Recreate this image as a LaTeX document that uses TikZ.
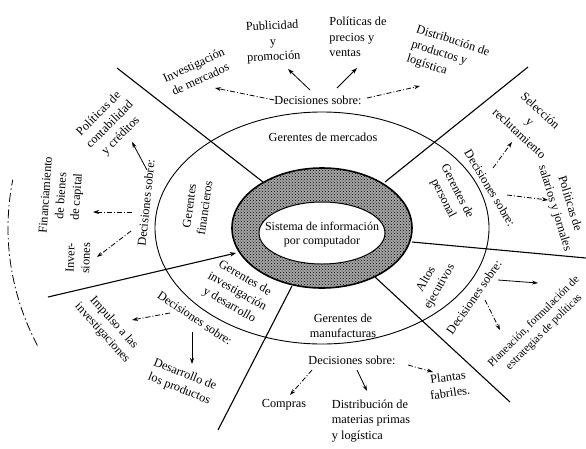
\documentclass[tikz,border=0pt]{standalone}
\usepackage{fontspec}
\setmainfont{Liberation Serif}
\usetikzlibrary{arrows.meta,patterns}
\begin{document}
\begin{tikzpicture}[x=1pt,y=-1pt,
  lbl/.style={font=\fontsize{12.3}{15.5}\selectfont, align=center, inner sep=0pt},
  lbll/.style={lbl, align=left},
  radial/.style={line width=1.1pt},
  midring/.style={line width=0.9pt},
  arr/.style={line width=0.8pt,-{Stealth[length=6pt,width=4pt]}},
  darr/.style={arr, dash pattern=on 5pt off 2pt on 1pt off 2pt},
]
\useasboundingbox (0,0) rectangle (586,448);
\fill[white] (0,0) rectangle (586,448);

% outer dash-dot arc (left)
\draw[line width=0.8pt, dash pattern=on 9pt off 3pt on 1.5pt off 3pt]
  plot[domain=155:190, samples=30, smooth] ({322+314*cos(\x)}, {228+278*sin(\x)});

% middle ellipse
\draw[midring] (322,228) ellipse [x radius=167pt, y radius=116pt];

% radial lines
\coordinate (r1a) at (263,182); \coordinate (r1b) at (117,68);
\coordinate (r2a) at (385,182); \coordinate (r2b) at (528,67);
\coordinate (r3a) at (412,242); \coordinate (r3b) at (586,258);
\coordinate (r4a) at (375,277); \coordinate (r4b) at (510,402);
\coordinate (r5a) at (292,286); \coordinate (r5b) at (218,430);
\coordinate (r6a) at (236,253); \coordinate (r6b) at (48,297);
\draw[radial] (r1a) -- (r1b);
\draw[radial] (r2a) -- (r2b);
\draw[radial] (r3a) -- (r3b);
\draw[radial] (r4a) -- (r4b);
\draw[radial] (r5a) -- (r5b);
\draw[radial, -{Stealth[length=6pt,width=4.5pt]}] (r6b) -- (r6a);

% central shaded ring
\fill[black!35, even odd rule] (322,228) ellipse [x radius=90pt, y radius=60pt]
  (322,233) ellipse [x radius=63pt, y radius=31pt];
\fill[pattern=crosshatch dots, pattern color=black, even odd rule]
  (322,228) ellipse [x radius=90pt, y radius=60pt]
  (322,233) ellipse [x radius=63pt, y radius=31pt];
\draw[line width=1.6pt] (322,228) ellipse [x radius=90pt, y radius=60pt];
\draw[line width=1pt, fill=white] (322,233) ellipse [x radius=63pt, y radius=31pt];
\node[lbl, font=\fontsize{12}{14}\selectfont] (sic) at (322,235) {Sistema de información\\por computador};

% ---- Marketing (top)
\node[lbl] (gm) at (323,137) {Gerentes de mercados};
\node[lbl] (dm) at (318,100) {Decisiones sobre:};
\node[lbl, rotate=25] (im) at (197,72) {Investigación\\de mercados};
\node[lbl, rotate=3] (pp) at (273,42) {Publicidad\\y\\promoción};
\node[lbll] (pv) at (358,37) {Políticas de\\precios y\\ventas};
\node[lbll, rotate=-18] (dl) at (448,56) {Distribución de\\productos y\\logística};
\coordinate (a1) at (215,88);
\coordinate (a2s) at (310,90); \coordinate (a2) at (288,69);
\coordinate (a3s) at (337,88); \coordinate (a3) at (357,68);
\coordinate (a4s) at (367,98); \coordinate (a4) at (420,86);
\draw[darr] (dm.west) -- (a1);
\draw[arr] (a2s) -- (a2);
\draw[arr] (a3s) -- (a3);
\draw[darr] (a4s) -- (a4);

% ---- Finance (left)
\node[lbl, rotate=82] (gf) at (197,207) {Gerentes\\financieros};
\node[lbl, rotate=84] (df) at (146,203) {Decisiones sobre:};
\node[lbl, rotate=45] (pc) at (110,125) {Políticas de\\contabilidad\\y créditos};
\node[lbl, rotate=86] (fb) at (62,196) {Financiamiento\\de bienes\\de capital};
\node[lbl, rotate=88] (inv) at (78,258) {Inver-\\siones};
\coordinate (f1s) at (147,170); \coordinate (f1) at (132,142);
\coordinate (f2s) at (132,212); \coordinate (f2) at (93,212);
\coordinate (f3s) at (131,231); \coordinate (f3) at (97,257);
\draw[arr] (f1s) -- (f1);
\draw[darr] (f2s) -- (f2);
\draw[darr] (f3s) -- (f3);

% ---- Personnel (right)
\node[lbl, rotate=-63] (gp) at (450,195) {Gerentes de\\personal};
\node[lbl, rotate=-59] (dp) at (490,188) {Decisiones sobre:};
\node[lbl, rotate=-43] (sr) at (530,122) {Selección\\y\\reclutamiento};
\node[lbl, rotate=-73] (ps) at (562,206) {Políticas de\\salarios y jornales};
\coordinate (p1s) at (493,168); \coordinate (p1) at (512,142);
\coordinate (p2s) at (507,195); \coordinate (p2) at (548,200);
\draw[darr] (p1s) -- (p1);
\draw[darr] (p2s) -- (p2);

% ---- Top executives
\node[lbl, rotate=60] (ae) at (433,283) {Altos\\ejecutivos};
\node[lbl, rotate=55] (da) at (474,297) {Decisiones sobre:};
\node[lbl, rotate=45, font=\fontsize{11.3}{14.5}\selectfont] (pf) at (539,327) {Planeación, formulación de\\estrategias de políticas};
\coordinate (e1s) at (498,280); \coordinate (e1) at (538,283);
\coordinate (e2s) at (485,300); \coordinate (e2) at (500,330);
\draw[arr] (e1s) -- (e1);
\draw[darr] (e2s) -- (e2);

% ---- Manufacturing (bottom)
\node[lbl] (gmf) at (343,326) {Gerentes de\\manufacturas};
\node[lbl] (dmf) at (352,360) {Decisiones sobre:};
\node[lbl] (co) at (284,405) {Compras};
\node[lbll] (dmp) at (371,421) {Distribución de\\materias primas\\y logística};
\node[lbl, rotate=8] (pl) at (449,385) {Plantas\\fabriles.};
\coordinate (m1s) at (312,370); \coordinate (m1) at (290,395);
\coordinate (m2s) at (357,370); \coordinate (m2) at (367,391);
\coordinate (m3s) at (408,365); \coordinate (m3) at (433,372);
\draw[darr] (m1s) -- (m1);
\draw[arr] (m2s) -- (m2);
\draw[darr] (m3s) -- (m3);

% ---- R&D (lower left)
\node[lbl, rotate=-30] (gi) at (237,292) {Gerentes de\\investigación\\y desarrollo};
\node[lbl, rotate=-34] (di) at (195,318) {Decisiones sobre:};
\node[lbl, rotate=-48] (ii) at (108,328) {Impulso a las\\investigaciones};
\node[lbl, rotate=-22] (dpr) at (182,382) {Desarrollo de\\los productos};
\coordinate (i1s) at (170,313); \coordinate (i1) at (132,320);
\coordinate (i2s) at (192,332); \coordinate (i2) at (192,364);
\draw[darr] (i1s) -- (i1);
\draw[arr] (i2s) -- (i2);
\end{tikzpicture}
\end{document}
